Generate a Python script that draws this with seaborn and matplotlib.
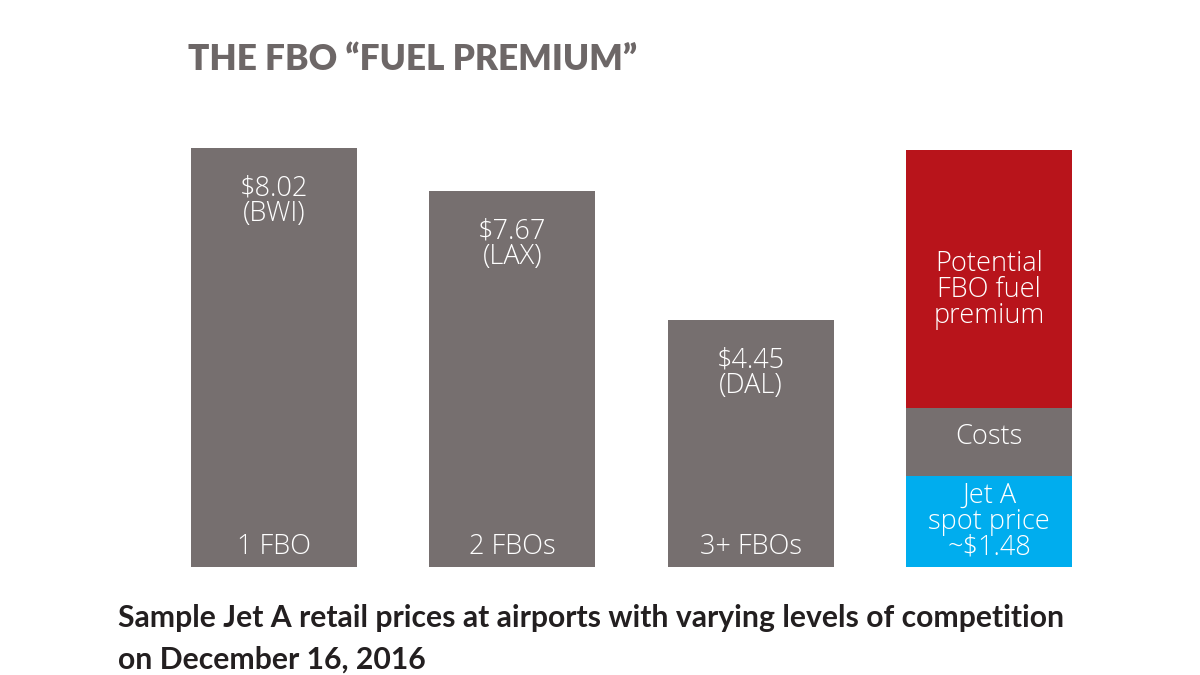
import matplotlib
matplotlib.use("Agg")
import matplotlib.pyplot as plt
import seaborn as sns
import pandas as pd

# ---- data ----
categories = ["1 FBO", "2 FBOs", "3+ FBOs", "Breakdown"]
price_labels = ["$8.02", "$7.67", "$4.45"]
airport_labels = ["(BWI)", "(LAX)", "(DAL)"]
bar_heights = [8.02, 7.20, 4.73]          # drawn heights (not to scale in original)
stack_segments = [["Jet A", "spot price", "~$1.48"], ["Costs"], ["Potential", "FBO fuel", "premium"]]
stack_heights = [1.74, 1.30, 4.95]        # blue, grey, red
title = "THE FBO \u201cFUEL PREMIUM\u201d"
subtitle = ["Sample Jet A retail prices at airports with varying levels of competition",
            "on December 16, 2016"]

GREY = "#766f6f"
RED = "#b8141b"
BLUE = "#00adee"

sns.set_theme(style="white")
plt.rcParams["font.family"] = ["Lato", "DejaVu Sans"]

fig = plt.figure(figsize=(12, 6.75), dpi=100)
ax = fig.add_axes([0, 0, 1, 1])

W = 1200
H = 675
px_per_unit = 52.2
base_px = 567  # y pixel of bar bottoms
centers_px = [274, 989]
unit_x = (centers_px[1] - centers_px[0]) / 3

cum = [sum(stack_heights[:i + 1]) for i in range(len(stack_heights))]

df_main = pd.DataFrame({"cat": categories, "h": bar_heights + [cum[2]]})
sns.barplot(data=df_main, x="cat", y="h", order=categories, hue="cat",
            palette=[GREY, GREY, GREY, RED], legend=False, width=0.697,
            saturation=1, ax=ax, linewidth=0)
sns.barplot(x=[categories[3]], y=[cum[1]], order=categories, color=GREY,
            width=0.697, saturation=1, ax=ax, linewidth=0)
sns.barplot(x=[categories[3]], y=[cum[0]], order=categories, color=BLUE,
            width=0.697, saturation=1, ax=ax, linewidth=0)

ax.set_xlim(-centers_px[0] / unit_x, (W - centers_px[0]) / unit_x)
ax.set_ylim(-(H - base_px) / px_per_unit, base_px / px_per_unit)
ax.axis("off")

label_kw = dict(color="white", ha="center", va="center", fontsize=19.5,
                family=["Open Sans", "DejaVu Sans"], fontweight="light")
LINE = 26 / px_per_unit

def lines_at(x, y_center, lines, shift_px=0):
    n = len(lines)
    for k, t in enumerate(lines):
        y = y_center - shift_px / px_per_unit - (k - (n - 1) / 2) * LINE
        ax.text(x, y, t, **label_kw)

for i, (p, a, h) in enumerate(zip(price_labels, airport_labels, bar_heights)):
    lines_at(i, h - 53 / px_per_unit, [p, a])
    ax.text(i, 20 / px_per_unit, categories[i], **label_kw)

lines_at(3, (cum[1] + cum[2]) / 2, stack_segments[2], shift_px=11)
lines_at(3, (cum[0] + cum[1]) / 2, stack_segments[1], shift_px=-5)
lines_at(3, cum[0] / 2, stack_segments[0], shift_px=0)

fig.text(188 / W, 1 - 60 / H, title, ha="left", va="center", fontsize=25.3,
         fontweight="heavy", color="#6d6767")
fig.text(118 / W, 1 - 618 / H, subtitle[0], ha="left", va="center", fontsize=21.7,
         fontweight="bold", color="#231f20")
fig.text(118 / W, 1 - 660 / H, subtitle[1], ha="left", va="center", fontsize=21.7,
         fontweight="bold", color="#231f20")

fig.savefig("out.png", dpi=100)
